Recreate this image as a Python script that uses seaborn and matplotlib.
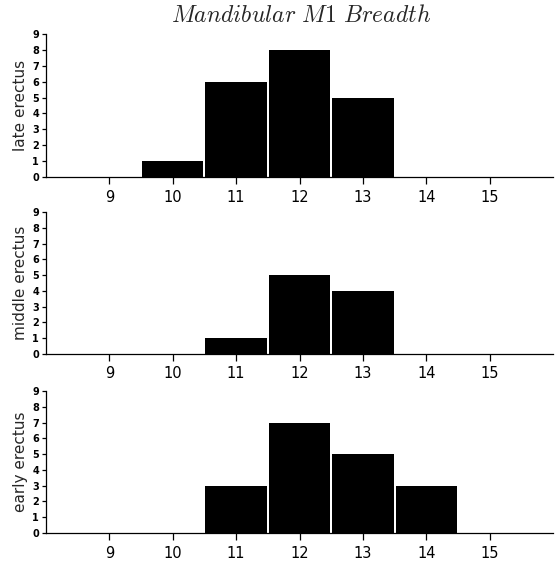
import matplotlib
matplotlib.use("Agg")
import matplotlib.pyplot as plt
import seaborn as sns
import pandas as pd

bins = [9, 10, 11, 12, 13, 14, 15]
late_erectus = [0, 1, 6, 8, 5, 0, 0]
middle_erectus = [0, 0, 1, 5, 4, 0, 0]
early_erectus = [0, 0, 3, 7, 5, 3, 0]
panel_labels = ["late erectus", "middle erectus", "early erectus"]
y_ticks = list(range(10))
title = r"$Mandibular\ M1\ Breadth$"

sns.set_theme(style="ticks")
plt.rcParams["font.family"] = ["DejaVu Sans"]
plt.rcParams["mathtext.fontset"] = "cm"

fig = plt.figure(figsize=(5.58, 5.61), dpi=100)
W, H = 558, 561
left, right = 46, 553
panels = [(34, 177), (212, 354), (391, 533)]

for (top, bot), series, lab in zip(panels, [late_erectus, middle_erectus, early_erectus], panel_labels):
    ax = fig.add_axes([left / W, (H - bot) / H, (right - left) / W, (bot - top) / H])
    df = pd.DataFrame({"bin": bins, "count": series})
    sns.barplot(data=df, x="bin", y="count", native_scale=True, width=0.97,
                color="black", edgecolor="black", linewidth=0, saturation=1, ax=ax)
    ax.set_xlim(8, 16)
    ax.set_ylim(0, 9)
    ax.set_xticks(bins)
    ax.set_xticklabels([str(b) for b in bins], fontsize=10.5)
    ax.set_yticks(y_ticks)
    ax.set_yticklabels([str(t) for t in y_ticks], fontsize=7, fontweight="bold")
    ax.set_xlabel("")
    ax.set_ylabel(lab, fontsize=11, labelpad=3)
    for s in ["top", "right"]:
        ax.spines[s].set_visible(False)
    for s in ["left", "bottom"]:
        ax.spines[s].set_linewidth(0.9)
        ax.spines[s].set_color("black")
    ax.tick_params(axis="x", length=5, width=0.9, pad=4, colors="black")
    ax.tick_params(axis="y", length=3, width=0.9, pad=2, colors="black")

fig.text(301 / W, 1 - 15 / H, title, ha="center", va="center", fontsize=17)
fig.savefig("out.png", dpi=100, facecolor="white")
